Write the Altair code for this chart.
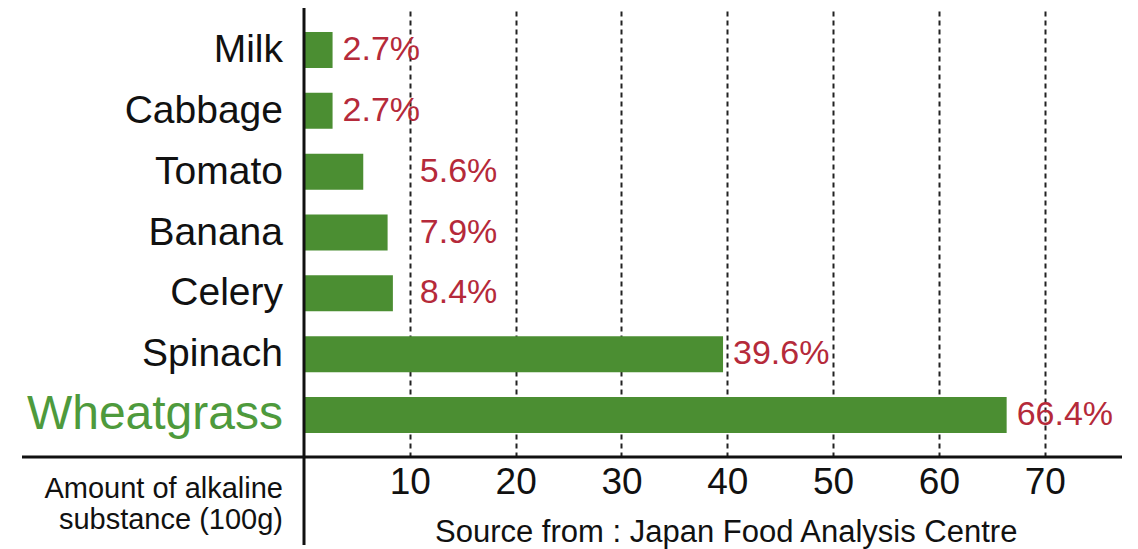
import altair as alt
import pandas as pd

# ---- data ----
foods = ["Milk", "Cabbage", "Tomato", "Banana", "Celery", "Spinach", "Wheatgrass"]
percent = [2.7, 2.7, 5.6, 7.9, 8.4, 39.6, 66.4]
tick_values = [10, 20, 30, 40, 50, 60, 70]
highlight = "Wheatgrass"
axis_note = ["Amount of alkaline", "substance (100g)"]
source_note = "Source from : Japan Food Analysis Centre"

df = pd.DataFrame({"food": foods, "percent": percent})
one = pd.DataFrame({"k": [0]})

FONT = "Liberation Sans"
W, H = 818, 449
BAR = "#4b8e32"
RED = "#b52a3a"
GREEN_TXT = "#4e9a3c"
INK = "#111111"

x_scale = alt.Scale(domain=[0, 77.3], nice=False, zero=True)
x_axis = alt.Axis(values=tick_values, grid=True, gridDash=[5, 4], gridColor="#222222",
                  gridWidth=2, ticks=False, domain=False, labelFontSize=37, labelFont=FONT,
                  labelColor=INK, labelPadding=7, title=None, format="d", labelFlush=False)
y_scale = alt.Scale(paddingInner=0.408, paddingOuter=0.395)

bars = alt.Chart(df).mark_bar(color=BAR).encode(
    y=alt.Y("food:N", sort=foods, scale=y_scale, axis=None),
    x=alt.X("percent:Q", scale=x_scale, axis=x_axis),
)

labels = alt.Chart(df).transform_calculate(
    anchor="datum.percent > 5 && datum.percent < 10 ? 10 : datum.percent",
    txt="format(datum.percent, '.1f') + '%'",
).mark_text(align="left", baseline="middle", dx=10, font=FONT, fontSize=34, color=RED).encode(
    y=alt.Y("food:N", sort=foods, scale=y_scale, axis=None),
    x=alt.X("anchor:Q", scale=x_scale, axis=x_axis),
    text="txt:N",
)

cond = f"datum.food == '{highlight}'"
cats = alt.Chart(df).mark_text(align="right", baseline="middle", font=FONT).encode(
    y=alt.Y("food:N", sort=foods, scale=y_scale, axis=None),
    x=alt.value(-21),
    text="food:N",
    color=alt.condition(cond, alt.value(GREEN_TXT), alt.value(INK)),
    size=alt.condition(cond, alt.value(48), alt.value(39)),
)

vline = alt.Chart(one).mark_rule(color=INK, strokeWidth=3).encode(
    x=alt.value(0), y=alt.value(-1), y2=alt.value(537)
)
hline = alt.Chart(one).mark_rule(color=INK, strokeWidth=3).encode(
    x=alt.value(-282), x2=alt.value(W), y=alt.value(H)
)

note = alt.Chart(one).mark_text(align="right", baseline="alphabetic", font=FONT,
                                fontSize=29, lineHeight=31, color=INK).encode(
    x=alt.value(-21), y=alt.value(490), text=alt.value(axis_note)
)
src = alt.Chart(one).mark_text(align="left", baseline="alphabetic", font=FONT,
                               fontSize=31, color=INK).encode(
    x=alt.value(131), y=alt.value(534), text=alt.value(source_note)
)

chart = alt.layer(bars, labels, cats, vline, hline, note, src).properties(
    width=W, height=H,
    padding={"left": 296, "top": 0, "right": 8, "bottom": 92},
    autosize="none",
    background="white",
).configure_view(stroke=None)

chart.save("out.html", embed_options={"renderer": "svg", "actions": False})
